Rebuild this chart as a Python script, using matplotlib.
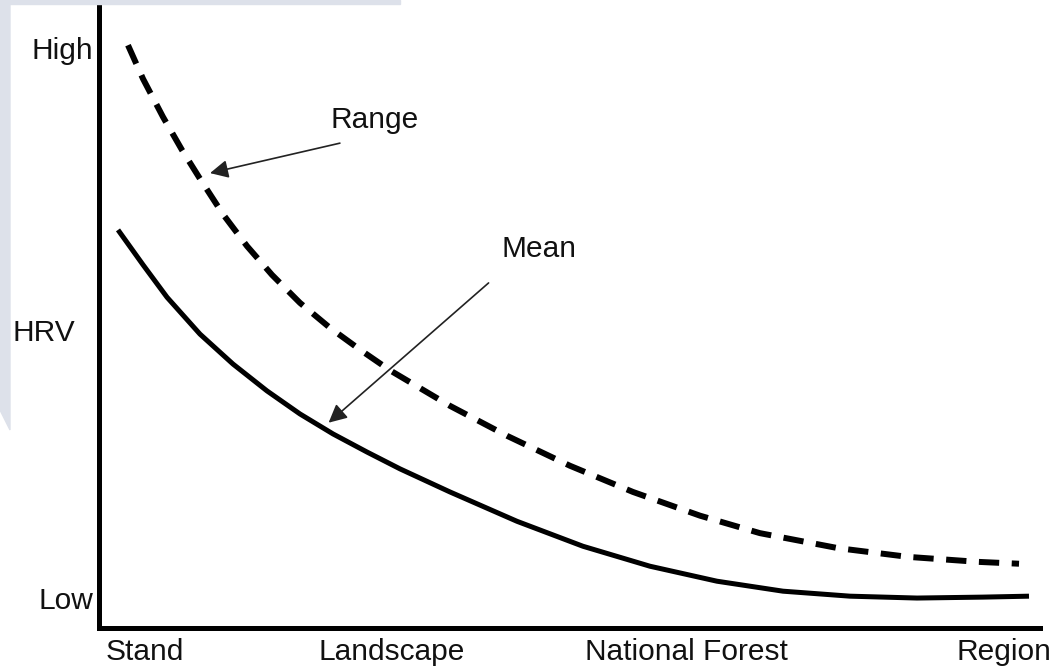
import numpy as np
import matplotlib.pyplot as plt
from matplotlib.patches import Rectangle, Polygon

plt.rcParams['font.family'] = ['Liberation Sans', 'DejaVu Sans']

# Scale position (0 = Stand .. 100 = Region) and HRV level (0 = Low .. 100 = High)
range_x = [3.08, 4.68, 6.80, 8.82, 10.73, 13.18, 15.73, 18.38, 21.36, 24.55, 27.74,
           30.92, 37.30, 43.36, 50.05, 56.75, 63.87, 70.24, 78.53, 85.97, 93.41, 97.77]
range_y = [93.4, 88.0, 81.9, 76.6, 72.0, 66.3, 61.2, 56.6, 52.1, 48.1, 44.6,
           41.3, 35.6, 30.8, 26.0, 21.8, 18.0, 15.2, 12.8, 11.4, 10.6, 10.3]

mean_x = [2.02, 4.68, 7.23, 10.73, 14.24, 17.85, 21.36, 24.87, 28.48, 31.99,
          37.30, 44.42, 51.43, 58.55, 65.67, 72.69, 79.81, 86.93, 93.94, 98.83]
mean_y = [63.8, 58.2, 53.0, 47.1, 42.3, 38.0, 34.3, 31.1, 28.2, 25.5,
          21.8, 17.1, 13.1, 9.9, 7.5, 5.9, 5.1, 4.8, 4.95, 5.1]

x_ticks = [4.9, 31.1, 62.4, 96.2]
x_labels = ["Stand", "Landscape", "National Forest", "Region"]
y_ticks = [4.8, 92.9]
y_labels = ["Low", "High"]

W, H = 1052, 668
fig = plt.figure(figsize=(W / 100, H / 100), dpi=100)
fig.patch.set_facecolor("white")

# faint slide background remnants
bg = "#dde1ea"
fig.patches.append(Rectangle((0, 1 - 4 / H), 400 / W, 4 / H, transform=fig.transFigure,
                             color=bg, zorder=0))
fig.patches.append(Polygon([(0, 1), (10 / W, 1), (10 / W, 1 - 430 / H), (0, 1 - 410 / H)],
                           closed=True, transform=fig.transFigure, color=bg, zorder=0))

ax = fig.add_axes([99 / W, (H - 628) / H, (1040 - 99) / W, (628 - 4) / H])
ax.set_xlim(0, 100)
ax.set_ylim(0, 100)
ax.patch.set_alpha(0)

ax.plot(range_x, range_y, color="black", lw=4.3, linestyle=(0, (3.4, 2.1)),
        dash_capstyle="butt", dash_joinstyle="round")
ax.plot(mean_x, mean_y, color="black", lw=3.6, solid_capstyle="butt",
        solid_joinstyle="round")

for s in ["top", "right"]:
    ax.spines[s].set_visible(False)
for s in ["left", "bottom"]:
    ax.spines[s].set_linewidth(3.6)
    ax.spines[s].set_color("black")

ax.set_xticks(x_ticks)
ax.set_xticklabels(x_labels, fontsize=21.5, color="#111111")
ax.set_yticks(y_ticks)
ax.set_yticklabels(y_labels, fontsize=21.5, color="#111111")
ax.tick_params(axis="x", length=0, pad=7)
ax.tick_params(axis="y", length=0, pad=4)

ax.text(-9.2, 47.3, "HRV", fontsize=21.5, color="#111111", ha="left", va="center",
        transform=ax.transData, clip_on=False)

arrow = dict(arrowstyle="-|>,head_length=0.5,head_width=0.25", lw=1.2,
             color="#222222", mutation_scale=22, shrinkA=0, shrinkB=0)
ax.text(29.3, 81.4, "Range", fontsize=21.5, color="#111111", ha="center", va="center")
ax.annotate("", xy=(11.8, 72.9), xytext=(25.6, 77.7), arrowprops=arrow)
ax.text(46.8, 60.7, "Mean", fontsize=21.5, color="#111111", ha="center", va="center")
ax.annotate("", xy=(24.4, 32.9), xytext=(41.4, 55.3), arrowprops=arrow)

fig.savefig("out.png", dpi=100, facecolor="white")
